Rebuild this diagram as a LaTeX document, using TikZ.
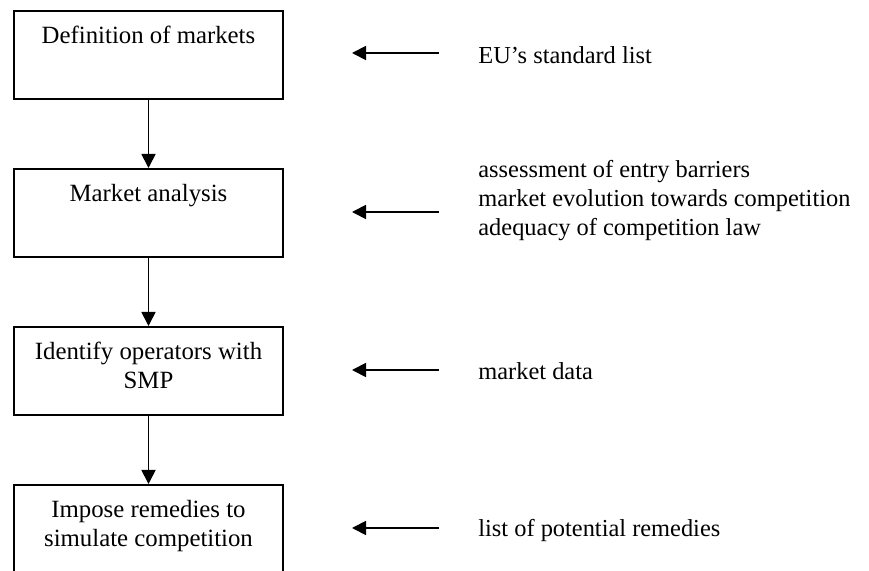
\documentclass[tikz,border=0pt]{standalone}
\usepackage{fontspec}
\setmainfont{Liberation Serif}
\usetikzlibrary{arrows.meta}

\tikzset{
  stage/.style={draw,line width=0.8pt,anchor=north,minimum width=134.5pt,
    inner xsep=2pt,inner ysep=0pt,text height=16.6pt,text depth=27.4pt,
    align=center,font=\fontsize{12.4}{14.2}\selectfont},
  twolines/.style={text height=30.8pt,text depth=13.2pt},
  source/.style={anchor=base west,inner sep=0pt,align=left,
    font=\fontsize{12.2}{14.5}\selectfont},
  flow/.style={line width=0.9pt,-{Triangle[length=7pt,width=7pt]}},
}

\begin{document}
\begin{tikzpicture}[x=0.5pt,y=-0.5pt]
\useasboundingbox (0,0) rectangle (869,571);

% steps of the procedure
\node[stage] (def) at (148.5,10)  {Definition of markets};
\node[stage] (ana) at (148.5,168) {Market analysis};
\node[stage,twolines] (smp) at (148.5,326) {Identify operators with\\SMP};
\node[stage,twolines] (rem) at (148.5,484) {Impose remedies to\\simulate competition};

\draw[flow] (def) -- (ana);
\draw[flow] (ana) -- (smp);
\draw[flow] (smp) -- (rem);

% inputs
\node[source] (eu)   at (478,64)  {EU's standard list};
\node[source] (crit) at (478,236) {assessment of entry barriers\\market evolution towards competition\\adequacy of competition law};
\node[source] (data) at (478,380) {market data};
\node[source] (list) at (478,537) {list of potential remedies};

\foreach \y/\n in {53/eu,212/crit,370/data,528/list}{
  \coordinate (\n-from) at (439,\y);
  \coordinate (\n-to) at (352,\y);
  \draw[flow] (\n-from) -- (\n-to);
}

\end{tikzpicture}
\end{document}
